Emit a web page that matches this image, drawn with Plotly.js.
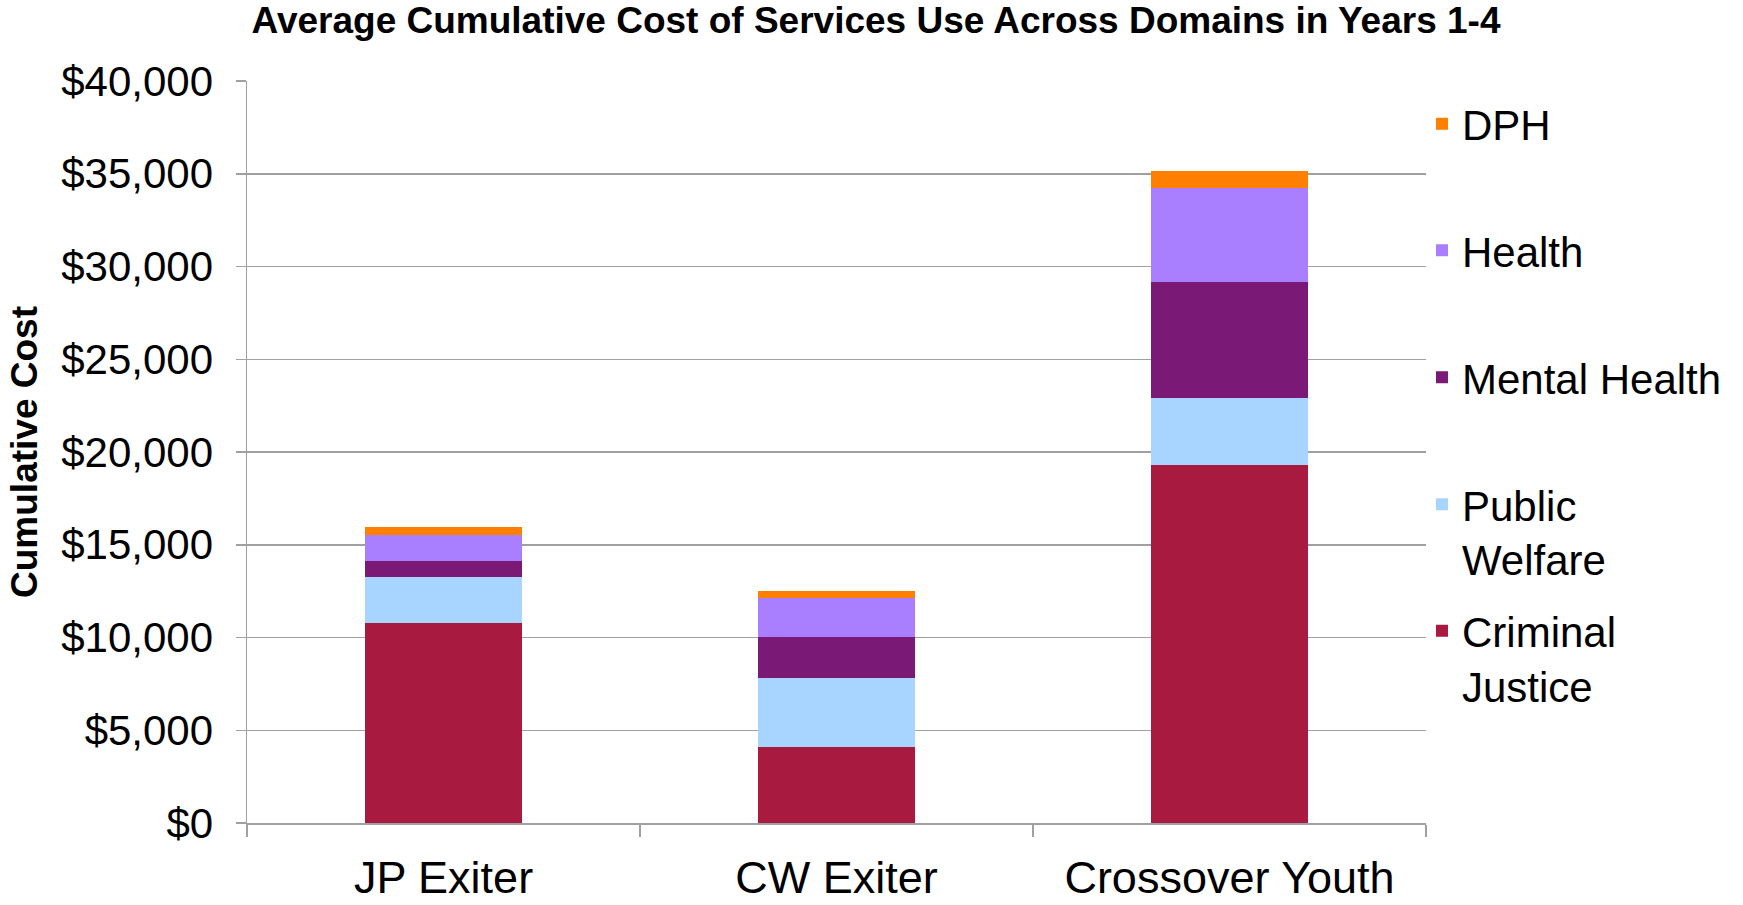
<!DOCTYPE html>
<html>
<head>
<meta charset="utf-8">
<script src="https://cdn.plot.ly/plotly-3.0.1.min.js"></script>
<style>
  html, body { margin: 0; padding: 0; background: #ffffff; }
  #chart { width: 1743px; height: 905px; }
</style>
</head>
<body>
<div id="chart"></div>
<script>
// ---- Data ----
const categories = ["JP Exiter", "CW Exiter", "Crossover Youth"];
const criminalJustice = [10780, 4100, 19300];
const publicWelfare   = [2500, 3720, 3630];
const mentalHealth    = [845, 2200, 6230];
const health          = [1385, 2090, 5050];
const dph             = [465, 415, 950];

const seriesNames  = ["Criminal<br>Justice", "Public<br>Welfare", "Mental Health", "Health", "DPH"];
const seriesValues = [criminalJustice, publicWelfare, mentalHealth, health, dph];
const seriesColors = ["#A91A40", "#A8D5FF", "#7A1A76", "#A97FFF", "#FF7F00"];

// ---- Layout helpers (positions, not data) ----
const legendIds = ["legend5", "legend4", "legend3", "legend2", "legend"];
const legendY   = [0.3048, 0.4753, 0.6464, 0.8176, 0.9879];

const traces = seriesNames.map((name, i) => ({
  type: "bar",
  name: name,
  x: categories,
  y: seriesValues[i],
  marker: { color: seriesColors[i], line: { width: 0 } },
  legend: legendIds[i],
  hoverinfo: "x+y+name"
}));

const baseFont = { family: "Liberation Sans, Arial, sans-serif", color: "#000000" };

const layout = {
  width: 1743,
  height: 905,
  paper_bgcolor: "#ffffff",
  plot_bgcolor: "#ffffff",
  margin: { l: 247, r: 317, t: 81, b: 82, pad: 0 },
  barmode: "stack",
  bargap: 0.6,
  showlegend: true,
  title: {
    text: "<b>Average Cumulative Cost of Services Use Across Domains in Years 1-4</b>",
    font: Object.assign({}, baseFont, { size: 37 }),
    xref: "container", yref: "container",
    x: 0.5026, xanchor: "center",
    y: 0.978, yanchor: "middle"
  },
  xaxis: {
    type: "category",
    showline: true,
    linecolor: "#A0A0A0",
    linewidth: 1.5,
    ticks: "outside",
    tickson: "boundaries",
    ticklen: 12,
    tickcolor: "#A0A0A0",
    tickwidth: 1.5,
    tickfont: Object.assign({}, baseFont, { size: 45 }),
    ticklabelstandoff: 14,
    showgrid: false,
    fixedrange: true
  },
  yaxis: {
    range: [0, 40000],
    dtick: 5000,
    tick0: 0,
    tickprefix: "$",
    tickformat: ",d",
    showline: true,
    linecolor: "#A0A0A0",
    linewidth: 1.5,
    ticks: "outside",
    ticklen: 10,
    tickcolor: "#A0A0A0",
    tickwidth: 1.5,
    tickfont: Object.assign({}, baseFont, { size: 42 }),
    ticklabelstandoff: 14,
    showgrid: true,
    gridcolor: "#A0A0A0",
    gridwidth: 1.5,
    zeroline: false,
    fixedrange: true,
    title: {
      text: "<b>Cumulative Cost</b>",
      font: Object.assign({}, baseFont, { size: 37 }),
      standoff: 12
    }
  }
};

legendIds.forEach((id, i) => {
  layout[id] = {
    x: 0.9966, xanchor: "left",
    y: legendY[i], yanchor: "top",
    valign: "top",
    bgcolor: "rgba(0,0,0,0)",
    borderwidth: 0,
    font: Object.assign({}, baseFont, { size: 42 }),
    itemclick: false,
    itemdoubleclick: false
  };
});

Plotly.newPlot("chart", traces, layout, { displayModeBar: false, staticPlot: true });
</script>
</body>
</html>
